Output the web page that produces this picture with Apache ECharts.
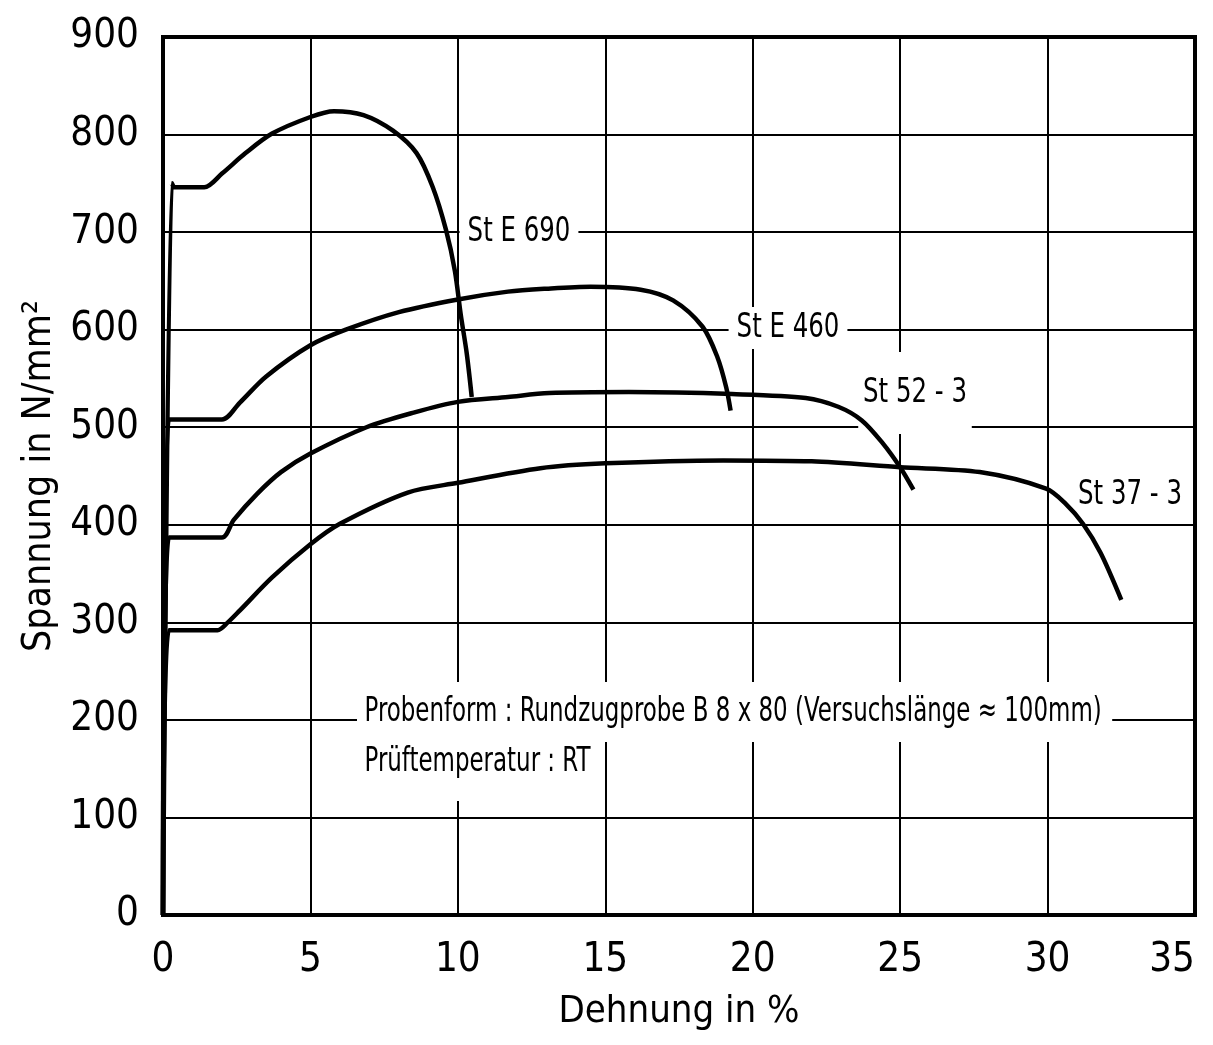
<!DOCTYPE html>
<html>
<head>
<meta charset="utf-8">
<script src="https://cdn.jsdelivr.net/npm/echarts@6/dist/echarts.min.js"></script>
<style>
html,body{margin:0;padding:0;background:#fff;}
#c{width:1213px;height:1045px;}
</style>
</head>
<body>
<div id="c"></div>
<script>
// Dehnung in % (x) / Spannung in N/mm² (y)
const stE690 = [[0,0],[0.3,750],[0.4,746],[1.4,746],[2.0,760],[2.8,781],[3.7,801],[5.0,818],[5.8,824],[6.8,820],[7.8,804],[8.6,781],[9.15,746],[9.6,702],[9.9,660],[10.1,615],[10.3,576],[10.47,531]];
const stE460 = [[0,0],[0.2,508],[2.0,508],[2.6,525],[3.5,552],[5.0,584],[6.2,600],[8.0,618],[10.0,631],[11.7,639],[13.0,642],[14.5,644],[16.2,641],[17.3,630],[18.3,603],[18.8,572],[19.1,541],[19.25,517]];
const st523 = [[0,0],[0.2,387],[2.0,387],[2.4,405],[3.2,432],[4.0,454],[5.0,473],[6.9,500],[8.5,515],[10.0,526],[11.7,531],[13.1,535],[15.8,536],[19.3,534],[21.8,530],[22.9,521],[23.7,507],[24.4,484],[25.0,459],[25.45,436]];
const st373 = [[0,0],[0.2,292],[1.85,292],[2.2,300],[2.6,312],[3.7,346],[5.0,380],[6.0,401],[8.3,433],[10.0,443],[12.8,458],[15.0,463],[19.0,466],[22.0,465],[25.0,459],[27.7,454],[29.95,437],[30.6,422],[31.2,401],[31.8,371],[32.5,323]];
const seriesNames = ['St E 690','St E 460','St 52 - 3','St 37 - 3'];
const noteLines = ['Probenform : Rundzugprobe B 8 x 80 (Versuchslänge ≈ 100mm)','Prüftemperatur : RT'];
const xTitle = 'Dehnung in %';
const yTitle = 'Spannung in N/mm²';

const FONT = "'DejaVu Sans Condensed','Liberation Sans Narrow',sans-serif";
const chart = echarts.init(document.getElementById('c'), null, {renderer:'canvas'});

function lineSeries(name, data){
  return {name, type:'line', data, showSymbol:false, smooth:0.3,
    lineStyle:{color:'#000', width:4.5}, z:3, animation:false};
}
function label(text, x, y, align, pad, sx){
  return {type:'text', x, y, z:1, scaleX:sx, scaleY:1,
    style:{text, fill:'#000', font:'34px '+FONT,
    textAlign:align, textVerticalAlign:'middle', backgroundColor:'#fff', padding:pad}};
}

chart.setOption({
  backgroundColor:'#fff',
  animation:false,
  grid:{left:163, right:18, top:37, bottom:130, show:true, borderColor:'#000', borderWidth:4,
    containLabel:false, outerBoundsMode:'none'},
  xAxis:{type:'value', min:0, max:35, interval:5,
    name:xTitle, nameLocation:'middle', nameGap:78,
    nameTextStyle:{fontFamily:FONT, fontSize:38, color:'#000'},
    axisLine:{lineStyle:{color:'#000', width:4}}, axisTick:{show:false},
    axisLabel:{fontFamily:FONT, fontSize:40, color:'#000', margin:26, alignMaxLabel:'right'},
    splitLine:{lineStyle:{color:'#000', width:2}}},
  yAxis:{type:'value', min:0, max:900, interval:100,
    name:yTitle, nameLocation:'middle', nameGap:100, nameRotate:90,
    nameTextStyle:{fontFamily:FONT, fontSize:39, color:'#000'},
    axisLine:{lineStyle:{color:'#000', width:4}}, axisTick:{show:false},
    axisLabel:{fontFamily:FONT, fontSize:40, color:'#000', margin:24},
    splitLine:{lineStyle:{color:'#000', width:2}}},
  series:[lineSeries(seriesNames[0], stE690), lineSeries(seriesNames[1], stE460),
          lineSeries(seriesNames[2], st523), lineSeries(seriesNames[3], st373)],
  graphic:[
    label(seriesNames[0], 519, 232, 'center', [4,10], 0.8),
    label(seriesNames[1], 788, 328, 'center', [4,10], 0.8),
    label(seriesNames[2], 915, 393, 'center', [24,6,24,6], 0.8),
    label(seriesNames[3], 1130, 495, 'center', [4,8], 0.8),
    label(noteLines[0], 357, 712, 'left', [22,14,4,10], 0.75),
    label(noteLines[1], 357, 762, 'left', [22,18,22,10], 0.75)
  ]
});
</script>
</body>
</html>
